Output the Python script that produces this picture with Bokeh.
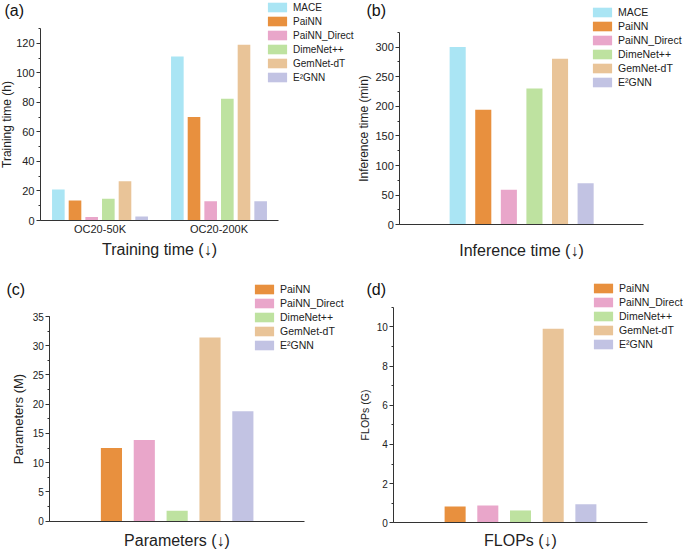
from bokeh.plotting import figure
from bokeh.models import ColumnDataSource, Range1d, SingleIntervalTicker, FixedTicker, Label
from bokeh.transform import dodge
from bokeh.layouts import column, row
from bokeh.embed import file_html
from bokeh.resources import INLINE

FONT = "Liberation Sans"
TXT = "#222222"
AX = "#333333"

# ---------------- data ----------------
# (a) Training time (h)
train_groups = ["OC20-50K", "OC20-200K"]
train_models = ["MACE", "PaiNN", "PaiNN_Direct", "DimeNet++", "GemNet-dT", "E\u00b2GNN"]
train_mace = [21.0, 111.0]
train_painn = [13.5, 70.0]
train_painn_direct = [2.3, 13.0]
train_dimenet = [14.7, 82.5]
train_gemnet = [26.5, 119.0]
train_e2gnn = [2.7, 13.0]

# (b) Inference time (min)
infer_models = ["MACE", "PaiNN", "PaiNN_Direct", "DimeNet++", "GemNet-dT", "E\u00b2GNN"]
infer_values = [300.0, 194.0, 59.0, 230.0, 280.0, 70.0]

# (c) Parameters (M)
param_models = ["PaiNN", "PaiNN_Direct", "DimeNet++", "GemNet-dT", "E\u00b2GNN"]
param_values = [12.5, 13.9, 1.8, 31.4, 18.8]

# (d) FLOPs (G)
flops_models = ["PaiNN", "PaiNN_Direct", "DimeNet++", "GemNet-dT", "E\u00b2GNN"]
flops_values = [0.83, 0.88, 0.63, 9.9, 0.95]

COLORS = {
    "MACE": "#aae5f4",
    "PaiNN": "#e8903e",
    "PaiNN_Direct": "#e9a6ca",
    "DimeNet++": "#bee2a0",
    "GemNet-dT": "#e9c498",
    "E\u00b2GNN": "#c2c3e3",
}


def ext_range(d0, d1, p0, p1, size):
    """Range whose data d0..d1 lands on pixels p0..p1 of a frame `size` px long."""
    k = (d1 - d0) / (p1 - p0)
    return Range1d(d0 - p0 * k, d1 + (size - p1) * k)


def make_fig(W, H, box, xdata, ydata):
    # box = (left, top, right, bottom) of the plotting area in figure pixels
    left, top, right, bottom = box
    xr = ext_range(xdata[0], xdata[1], left, right, W)
    yr = ext_range(ydata[0], ydata[1], H - bottom, H - top, H)
    p = figure(width=W, height=H, x_range=xr, y_range=yr, output_backend="svg",
               toolbar_location=None, min_border=0)
    p.outline_line_color = None
    p.xgrid.grid_line_color = None
    p.ygrid.grid_line_color = None
    p.background_fill_color = "white"
    p.border_fill_color = "white"
    for ax in (p.xaxis[0], p.yaxis[0]):
        ax.axis_line_color = AX
        ax.axis_line_width = 1
        ax.major_tick_line_color = AX
        ax.minor_tick_line_color = AX
        ax.major_label_text_font = FONT
        ax.major_label_text_color = TXT
        ax.axis_label_text_font = FONT
        ax.axis_label_text_color = TXT
        ax.axis_label_text_font_style = "normal"
    p.xaxis.fixed_location = ydata[0]
    p.xaxis.bounds = xdata
    p.xaxis.major_tick_out = 0
    p.xaxis.major_tick_in = 0
    p.xaxis.minor_tick_out = 0
    p.xaxis.minor_tick_in = 0
    p.yaxis.fixed_location = xdata[0]
    p.yaxis.bounds = ydata
    p.yaxis.major_tick_out = 4
    p.yaxis.major_tick_in = 0
    p.yaxis.minor_tick_out = 2
    p.yaxis.minor_tick_in = 0
    p.yaxis.major_label_standoff = 2
    return p


def style_legend(p, loc, fs="10.5px"):
    lg = p.legend[0]
    lg.location = loc
    lg.padding = 0
    lg.margin = 0
    lg.spacing = 2
    lg.glyph_width = 24
    lg.glyph_height = 12
    lg.label_height = 12
    lg.label_standoff = 4
    lg.label_text_font = FONT
    lg.label_text_font_size = fs
    lg.label_text_color = TXT
    lg.border_line_color = None
    lg.background_fill_alpha = 0
    lg.inactive_fill_alpha = 0


def letter(p, text, x, y):
    p.add_layout(Label(x=x, y=y, x_units="screen", y_units="screen", text=text,
                       text_baseline="top", text_font=FONT, text_font_size="16px",
                       text_color="#111111"))


# ---------------- (a) ----------------
WA, HA = 355, 270
pa = make_fig(WA, HA, (40, 28, 278, 220), (0.5, len(train_groups) + 0.5), (0, 130))
group_pos = [i + 1 for i in range(len(train_groups))]
src_a = ColumnDataSource(dict(pos=group_pos, MACE=train_mace, PaiNN=train_painn,
                              PaiNN_Direct=train_painn_direct, DimeNet=train_dimenet,
                              GemNet=train_gemnet, E2GNN=train_e2gnn))
cols_a = ["MACE", "PaiNN", "PaiNN_Direct", "DimeNet", "GemNet", "E2GNN"]
for i, (col, name) in enumerate(zip(cols_a, train_models)):
    pa.vbar(x=dodge("pos", (i - 2.5) * 0.14), top=col, width=0.106,
            source=src_a, fill_color=COLORS[name], line_color=None, legend_label=name)
pa.xaxis.ticker = FixedTicker(ticks=group_pos)
pa.xaxis.major_label_overrides = {pos: g for pos, g in zip(group_pos, train_groups)}
pa.yaxis.ticker = SingleIntervalTicker(interval=20, num_minor_ticks=2)
pa.yaxis.major_label_text_font_size = "11px"
pa.yaxis.axis_label = "Training time (h)"
pa.yaxis.axis_label_text_font_size = "12px"
pa.yaxis.axis_label_standoff = -1
pa.xaxis.major_label_text_font_size = "11px"
pa.xaxis.major_label_standoff = 2
pa.xaxis.axis_label = "Training time (\u2193)"
pa.xaxis.axis_label_text_font_size = "16px"
pa.xaxis.axis_label_standoff = 3
style_legend(pa, (265, 187), fs="10px")
letter(pa, "(a)", 4, HA - 1)


def single_panel(W, H, box, ymax, models, values, step, bw):
    p = make_fig(W, H, box, (0.5, 1.5), (0, ymax))
    data = {"pos": [1]}
    for j, m in enumerate(models):
        data["v%d" % j] = [values[j]]
    src = ColumnDataSource(data)
    n = len(models)
    for j, m in enumerate(models):
        p.vbar(x=dodge("pos", (j - (n - 1) / 2) * step), top="v%d" % j,
               width=bw, source=src, fill_color=COLORS[m], line_color=None, legend_label=m)
    p.xaxis.ticker = FixedTicker(ticks=[])
    p.xaxis.major_label_standoff = 0
    return p


# ---------------- (b) ----------------
WB, HB = 329, 270
pb = single_panel(WB, HB, (44.3, 31.7, 288, 224.3), 325, infer_models, infer_values, 0.105, 0.066)
pb.yaxis.ticker = SingleIntervalTicker(interval=50, num_minor_ticks=2)
pb.yaxis.major_label_text_font_size = "11px"
pb.yaxis.axis_label = "Inference time (min)"
pb.yaxis.axis_label_text_font_size = "12px"
pb.yaxis.axis_label_standoff = 1
pb.xaxis.axis_label = "Inference time (\u2193)"
pb.xaxis.axis_label_text_font_size = "16px"
pb.xaxis.axis_label_standoff = 17
style_legend(pb, (235, 182))
letter(pb, "(b)", 11, HB - 1)

# ---------------- (c) ----------------
WC, HC = 345, 280
pc = single_panel(WC, HC, (49.3, 46, 304, 250.7), 35, param_models, param_values, 0.129, 0.083)
pc.yaxis.ticker = SingleIntervalTicker(interval=5, num_minor_ticks=2)
pc.yaxis.major_label_text_font_size = "10px"
pc.yaxis.axis_label = "Parameters (M)"
pc.yaxis.axis_label_text_font_size = "13px"
pc.yaxis.axis_label_standoff = 3
pc.xaxis.axis_label = "Parameters (\u2193)"
pc.xaxis.axis_label_text_font_size = "16px"
pc.xaxis.axis_label_standoff = 10
style_legend(pc, (252, 199))
letter(pc, "(c)", 6, HC - 10)

# ---------------- (d) ----------------
WD, HD = 339, 280
pd_ = single_panel(WD, HD, (48.3, 36.7, 301.7, 252.3), 11, flops_models, flops_values, 0.129, 0.083)
pd_.yaxis.ticker = SingleIntervalTicker(interval=2, num_minor_ticks=2)
pd_.yaxis.major_label_text_font_size = "10px"
pd_.yaxis.axis_label = "FLOPs (G)"
pd_.yaxis.axis_label_text_font_size = "10.5px"
pd_.yaxis.axis_label_standoff = 2
pd_.xaxis.axis_label = "FLOPs (\u2193)"
pd_.xaxis.axis_label_text_font_size = "16px"
pd_.xaxis.axis_label_standoff = 9
style_legend(pd_, (246, 200))
letter(pd_, "(d)", 21, HD - 10)

layout = column(row(pa, pb), row(pc, pd_))
open("out.html", "w").write(file_html(layout, INLINE))
